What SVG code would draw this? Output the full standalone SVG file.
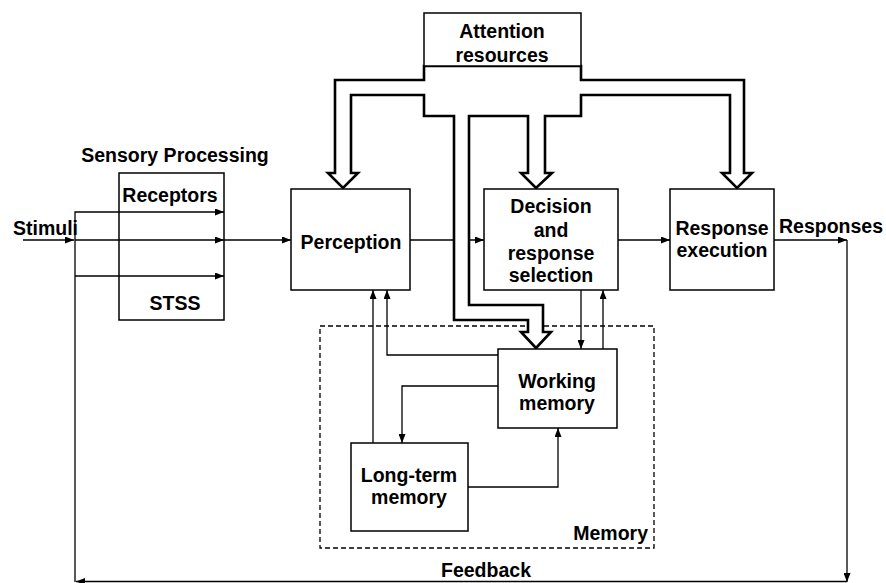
<svg xmlns="http://www.w3.org/2000/svg" width="886" height="583" viewBox="0 0 886 583">
<defs>
<marker id="ah" markerWidth="9" markerHeight="7" refX="9" refY="3.5" orient="auto" markerUnits="userSpaceOnUse">
<path d="M0,0 L9,3.5 L0,7 Z" fill="#000"/>
</marker>
<style>
.box{fill:#fff;stroke:#000;stroke-width:1.5}
.t{font-family:"Liberation Sans",Arial,sans-serif;font-weight:bold;font-size:19.5px;fill:#000;text-anchor:middle}
.c{fill:none;stroke:#000;stroke-width:1.3}
.pipe{fill:#fff;stroke:#000;stroke-width:2.6;stroke-linejoin:miter}
.dash{fill:none;stroke:#000;stroke-width:1.3;stroke-dasharray:5,3}
</style>
</defs>
<rect width="886" height="583" fill="#fff"/>

<g id="memory-group">
<rect class="dash" x="320" y="326" width="334" height="222"/>
<text class="t" x="648" y="540" style="text-anchor:end">Memory</text>
</g>

<g id="connectors">
<!-- stimuli -->
<line class="c" x1="23" y1="240" x2="74" y2="240" marker-end="url(#ah)"/>
<polyline class="c" points="75,582 75,212 224,212" marker-end="url(#ah)"/>
<line class="c" x1="75" y1="240" x2="224" y2="240" marker-end="url(#ah)"/>
<polyline class="c" points="75,276 224,276" marker-end="url(#ah)"/>
<line class="c" x1="224" y1="240" x2="291" y2="240" marker-end="url(#ah)"/>
<line class="c" x1="410" y1="240" x2="484" y2="240" marker-end="url(#ah)"/>
<line class="c" x1="618" y1="240" x2="670" y2="240" marker-end="url(#ah)"/>
<line class="c" x1="774" y1="240" x2="847" y2="240" marker-end="url(#ah)"/>
<line class="c" x1="847" y1="240" x2="847" y2="582" marker-end="url(#ah)"/>
<line class="c" x1="847" y1="581.5" x2="76" y2="581.5" marker-end="url(#ah)"/>
<!-- memory links -->
<line class="c" x1="373" y1="443" x2="373" y2="290" marker-end="url(#ah)"/>
<polyline class="c" points="498,355 387,355 387,290" marker-end="url(#ah)"/>
<polyline class="c" points="498,386 402,386 402,443" marker-end="url(#ah)"/>
<polyline class="c" points="468,487 558,487 558,428" marker-end="url(#ah)"/>
<line class="c" x1="581" y1="290" x2="581" y2="349" marker-end="url(#ah)"/>
<line class="c" x1="603" y1="349" x2="603" y2="290" marker-end="url(#ah)"/>
<!-- attention pipes -->
<path class="pipe" d="M424,66 L424,80 L335,80 L335,173 L328,173 L343,188 L358,173 L351,173 L351,95 L424,95 L424,116 L454,116 L454,320 L528,320 L528,332 L521,332 L536,348 L551,332 L543,332 L543,305 L469,305 L469,116 L528,116 L528,173 L521,173 L536,188 L552,173 L545,173 L545,116 L581,116 L581,95 L730,95 L730,173 L722,173 L737,188 L752,173 L744,173 L744,80 L581,80 L581,66 Z"/>
</g>

<g id="attention">
<rect class="box" x="424" y="13" width="157" height="53"/>
<text class="t" x="502" y="38">Attention</text>
<text class="t" x="502" y="62">resources</text>
</g>

<g id="sensory">
<text class="t" x="175" y="162">Sensory Processing</text>
<rect class="box" x="119" y="173" width="105" height="147" style="fill:none"/>
<text class="t" x="170" y="202">Receptors</text>
<text class="t" x="175" y="310">STSS</text>
</g>

<g id="stimuli">
<text class="t" x="13" y="235" style="text-anchor:start">Stimuli</text>
</g>

<g id="perception">
<rect class="box" x="291" y="189" width="119" height="101"/>
<text class="t" x="351" y="249">Perception</text>
</g>

<g id="decision">
<rect class="box" x="484" y="189" width="134" height="101"/>
<text class="t" x="551" y="213">Decision</text>
<text class="t" x="551" y="237">and</text>
<text class="t" x="551" y="260">response</text>
<text class="t" x="551" y="282">selection</text>
</g>

<g id="response">
<rect class="box" x="670" y="189" width="104" height="101"/>
<text class="t" x="722" y="235">Response</text>
<text class="t" x="722" y="257">execution</text>
</g>

<g id="responses">
<text class="t" x="831" y="233">Responses</text>
</g>

<g id="working-memory">
<rect class="box" x="498" y="349" width="119" height="79"/>
<text class="t" x="557" y="388">Working</text>
<text class="t" x="557" y="410">memory</text>
</g>

<g id="long-term-memory">
<rect class="box" x="351" y="443" width="117" height="88"/>
<text class="t" x="409" y="482">Long-term</text>
<text class="t" x="409" y="504">memory</text>
</g>

<g id="feedback">
<text class="t" x="486" y="577">Feedback</text>
</g>
</svg>
